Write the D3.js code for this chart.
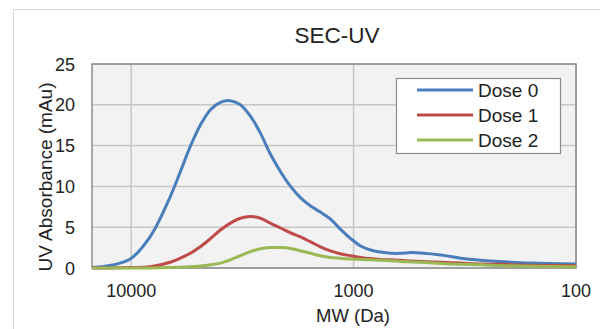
<!DOCTYPE html>
<html>
<head>
<meta charset="utf-8">
<script src="https://cdn.jsdelivr.net/npm/d3@7/dist/d3.min.js"></script>
<style>
  body { margin: 0; background: #fff; }
  text { font-family: "Liberation Sans", Arial, sans-serif; fill: #222; }
</style>
</head>
<body>
<svg id="viz"></svg>
<script>
// the data
var mw = [15000, 12430, 10100, 8210, 6670, 6010, 5420, 4890, 4400, 3970, 3580, 3230,
          2910, 2620, 2370, 2130, 1920, 1730, 1560, 1410, 1270, 1150, 1030, 930,
          838, 755, 681, 614, 553, 499, 405, 330, 268, 218, 160, 100];
var dose0 = [0.05, 0.3, 1.1, 3.85, 8.75, 11.8, 14.9, 17.5, 19.4, 20.3, 20.5, 20.0,
             18.6, 16.5, 14.0, 11.8, 10.0, 8.6, 7.6, 6.85, 6.0, 4.8, 3.6, 2.7,
             2.2, 1.95, 1.8, 1.8, 1.9, 1.85, 1.6, 1.2, 0.95, 0.8, 0.6, 0.5];
var dose1 = [0, 0, 0.05, 0.15, 0.7, 1.2, 1.8, 2.6, 3.6, 4.65, 5.5, 6.1,
             6.3, 6.1, 5.5, 4.9, 4.3, 3.8, 3.2, 2.6, 2.1, 1.75, 1.5, 1.3,
             1.15, 1.05, 1.0, 0.95, 0.85, 0.8, 0.7, 0.6, 0.5, 0.45, 0.35, 0.3];
var dose2 = [0, 0, 0, 0, 0.05, 0.1, 0.15, 0.25, 0.4, 0.6, 1.0, 1.5,
             2.0, 2.35, 2.5, 2.5, 2.4, 2.1, 1.8, 1.5, 1.3, 1.2, 1.1, 1.05,
             1.0, 0.95, 0.9, 0.8, 0.75, 0.7, 0.55, 0.45, 0.4, 0.3, 0.2, 0.15];
var seriesNames = ["Dose 0", "Dose 1", "Dose 2"];
var xTicks = [10000, 1000, 100];
var yTicks = [0, 5, 10, 15, 20, 25];

var colors = ["#4a7ebb", "#be4b48", "#98b954"];
var series = [dose0, dose1, dose2];

// set up the svg
var w = 600, h = 329;
var svg = d3.select("#viz").attr("width", w).attr("height", h);
var pLeft = 92, pRight = 576, pTop = 64, pBottom = 268;

// outer chart border
svg.append("rect").attr("x", 13.5).attr("y", 9.5).attr("width", 620).attr("height", 340)
  .attr("fill", "#fff").attr("stroke", "#d9d9d9");

var x = d3.scaleLog().domain([15000, 100]).range([pLeft, pRight]);
var y = d3.scaleLinear().domain([0, 25]).range([pBottom, pTop]);

// plot background
svg.append("rect").attr("x", pLeft).attr("y", pTop)
  .attr("width", pRight - pLeft).attr("height", pBottom - pTop).attr("fill", "#f2f2f2");

// gridlines
svg.selectAll(".hgrid").data(yTicks).enter().append("line")
  .attr("x1", pLeft).attr("x2", pRight)
  .attr("y1", function(d) { return y(d); }).attr("y2", function(d) { return y(d); })
  .attr("stroke", "#c6c6c6").attr("stroke-width", 1.5);
svg.selectAll(".vgrid").data(xTicks).enter().append("line")
  .attr("y1", pTop).attr("y2", pBottom)
  .attr("x1", function(d) { return x(d); }).attr("x2", function(d) { return x(d); })
  .attr("stroke", "#c6c6c6").attr("stroke-width", 1.5);

// plot border
svg.append("rect").attr("x", pLeft).attr("y", pTop)
  .attr("width", pRight - pLeft).attr("height", pBottom - pTop)
  .attr("fill", "none").attr("stroke", "#8c8c8c").attr("stroke-width", 1.5);

// tick labels
svg.selectAll(".ylab").data(yTicks).enter().append("text")
  .attr("x", 75).attr("y", function(d) { return y(d) + 6.5; })
  .attr("text-anchor", "end").attr("font-size", 18).text(function(d) { return d; });
svg.selectAll(".xlab").data(xTicks).enter().append("text")
  .attr("x", function(d) { return x(d); }).attr("y", 297)
  .attr("text-anchor", "middle").attr("font-size", 18).text(function(d) { return d; });

// axis titles
svg.append("text").attr("x", 353).attr("y", 322)
  .attr("text-anchor", "middle").attr("font-size", 18.5).text("MW (Da)");
svg.append("text").attr("transform", "translate(52,177) rotate(-90)")
  .attr("text-anchor", "middle").attr("font-size", 19).text("UV Absorbance (mAu)");
svg.append("text").attr("x", 337).attr("y", 43)
  .attr("text-anchor", "middle").attr("font-size", 22.5).text("SEC-UV");

// draw the lines
var line = d3.line()
  .x(function(d, i) { return x(mw[i]); })
  .y(function(d) { return y(d); })
  .curve(d3.curveCatmullRom.alpha(0.5));
svg.selectAll(".series").data(series).enter().append("path")
  .attr("d", function(d) { return line(d); })
  .attr("fill", "none")
  .attr("stroke", function(d, i) { return colors[i]; })
  .attr("stroke-width", 3);

// legend
svg.append("rect").attr("x", 396.5).attr("y", 78.5).attr("width", 164).attr("height", 75)
  .attr("fill", "#fff").attr("stroke", "#8c8c8c").attr("stroke-width", 1.2);
var leg = svg.selectAll(".leg").data(seriesNames).enter().append("g")
  .attr("transform", function(d, i) { return "translate(0," + (90 + i * 25) + ")"; });
leg.append("line").attr("x1", 417).attr("x2", 473)
  .attr("stroke", function(d, i) { return colors[i]; }).attr("stroke-width", 3);
leg.append("text").attr("x", 478).attr("y", 6.5).attr("font-size", 19)
  .text(function(d) { return d; });
</script>
</body>
</html>
